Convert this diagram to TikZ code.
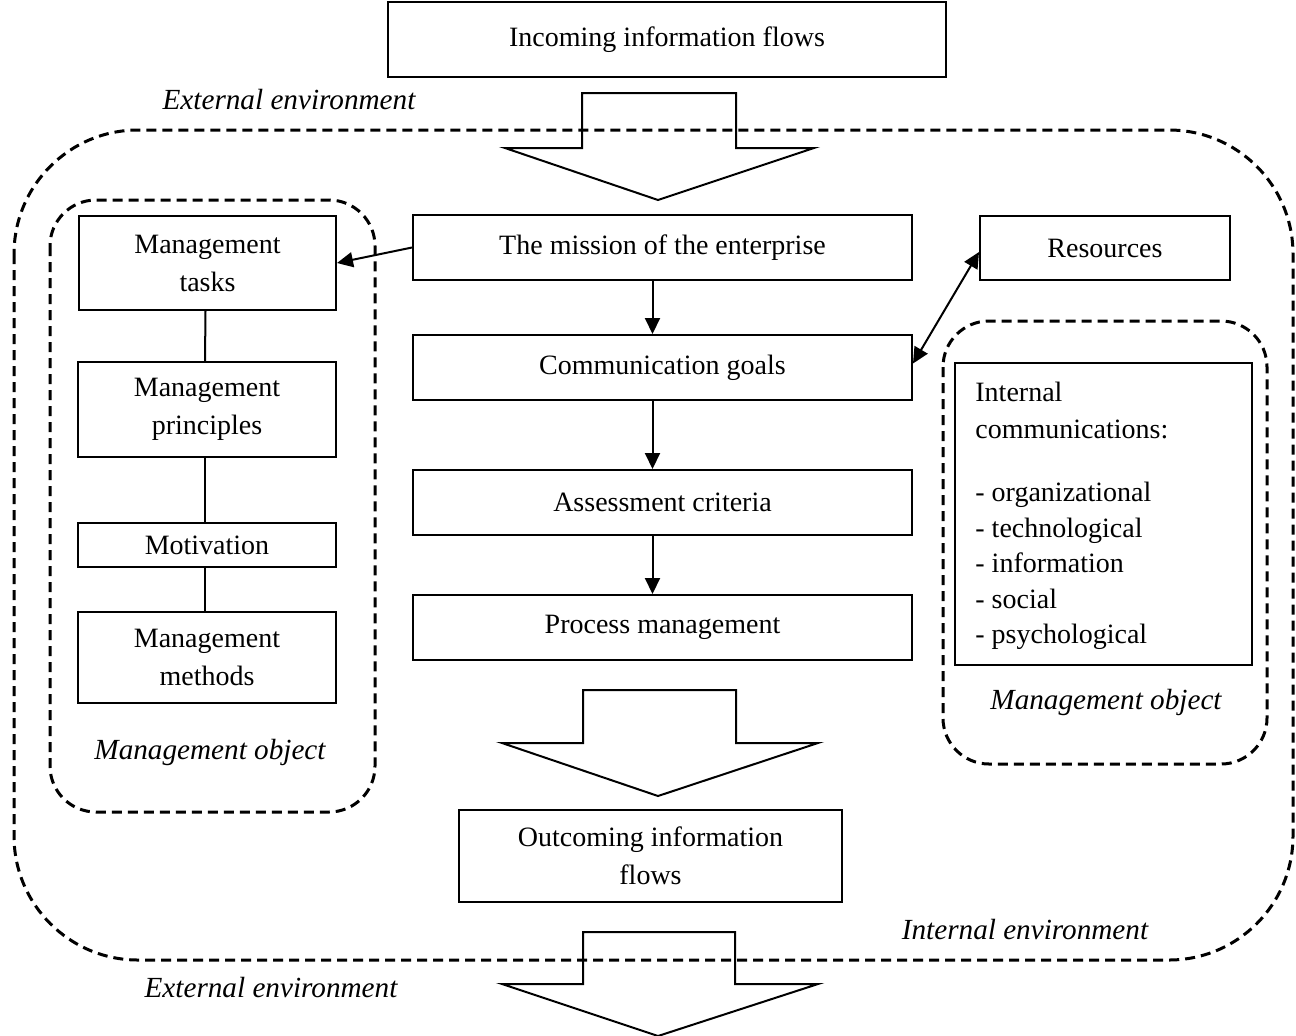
\documentclass[tikz,border=0pt]{standalone}
\usepackage{fontspec}
\setmainfont{Liberation Serif}
\usetikzlibrary{arrows.meta}
\begin{document}
\begin{tikzpicture}[x=0.5pt,y=-0.5pt,
  box/.style={draw,line width=1pt,inner sep=0pt,align=center,font=\fontsize{14}{19}\selectfont},
  lbl/.style={inner sep=0pt,font=\fontsize{14.6}{17}\selectfont\itshape},
  zone/.style={draw,line width=1.5pt,dash pattern=on 5pt off 3pt},
  blk/.style={draw,line width=1pt,line join=miter},
  conn/.style={line width=1pt},
  arr/.style={line width=1pt,-{Triangle[length=8pt,width=7.5pt]}},
  dbl/.style={line width=1pt,{Triangle[length=8pt,width=7.5pt]}-{Triangle[length=8pt,width=7.5pt]}}]
\useasboundingbox (0,0) rectangle (1296,1035);

% dashed zones
\draw[zone,rounded corners=62pt] (14,130) rectangle (1293,960);
\draw[zone,rounded corners=23pt] (50,200) rectangle (375,812);
\draw[zone,rounded corners=23pt] (943,321) rectangle (1267,764);

% boxes
\node[box,minimum width=279pt,minimum height=37.5pt] (inc) at (667,39.5) {Incoming information flows};
\node[box,minimum width=128.5pt,minimum height=47pt] (mt) at (207.5,263) {Management\\tasks};
\node[box,minimum width=129pt,minimum height=47.5pt] (mp) at (207,409.5) {Management\\principles};
\node[box,minimum width=129pt,minimum height=22pt] (mot) at (207,545) {Motivation};
\node[box,minimum width=129pt,minimum height=45.5pt] (mm) at (207,657.5) {Management\\methods};
\node[box,minimum width=249.5pt,minimum height=32.5pt] (mis) at (662.5,247.5) {The mission of the enterprise};
\node[box,minimum width=249.5pt,minimum height=32.5pt] (cg) at (662.5,367.5) {Communication goals};
\node[box,minimum width=249.5pt,minimum height=32.5pt] (ac) at (662.5,502.5) {Assessment criteria};
\node[box,minimum width=249.5pt,minimum height=32.5pt] (pm) at (662.5,627.5) {Process management};
\node[box,minimum width=191.5pt,minimum height=46pt] (out) at (650.5,856) {Outcoming information\\flows};
\node[box,minimum width=125pt,minimum height=32pt] (res) at (1105,248) {Resources};
\node[box,minimum width=148.5pt,minimum height=151pt] (ic) at (1103.5,514) {};
\node[inner sep=0pt,anchor=north west,align=left,font=\fontsize{14}{17.75}\selectfont] (ictext) at (975,382)
  {Internal\\[0.5pt]communications:\\[14pt]- organizational\\- technological\\- information\\- social\\- psychological};

% labels
\node[lbl] (ext1) at (289,100) {External environment};
\node[lbl] (mo1) at (210,752) {Management object};
\node[lbl] (mo2) at (1106,702) {Management object};
\node[lbl] (intenv) at (1025,930) {Internal environment};
\node[lbl] (ext2) at (271,988) {External environment};

% connectors
\draw[arr] (mis.west) -- (mt.east);
\draw[conn] ([xshift=-1pt]mt.south) -- ([xshift=-1pt]mp.north);
\draw[conn] ([xshift=-1pt]mp.south) -- ([xshift=-1pt]mot.north);
\draw[conn] ([xshift=-1pt]mot.south) -- ([xshift=-1pt]mm.north);
\draw[arr] ([xshift=-5pt]mis.south) -- ([xshift=-5pt]cg.north);
\draw[arr] ([xshift=-5pt]cg.south) -- ([xshift=-5pt]ac.north);
\draw[arr] ([xshift=-5pt]ac.south) -- ([xshift=-5pt]pm.north);
\draw[dbl] ([yshift=2pt]cg.east) -- ([yshift=-2pt]res.west);

% block arrows
\draw[blk] (582,93) -- (736,93) -- (736,148) -- (814,148) -- (658,200) -- (505,148) -- (582,148) -- cycle;
\draw[blk] (583,690) -- (736,690) -- (736,743) -- (818,743) -- (658,796) -- (502,743) -- (583,743) -- cycle;
\draw[blk] (583,932) -- (735,932) -- (735,984) -- (818,984) -- (658,1036) -- (502,984) -- (583,984) -- cycle;
\end{tikzpicture}
\end{document}
